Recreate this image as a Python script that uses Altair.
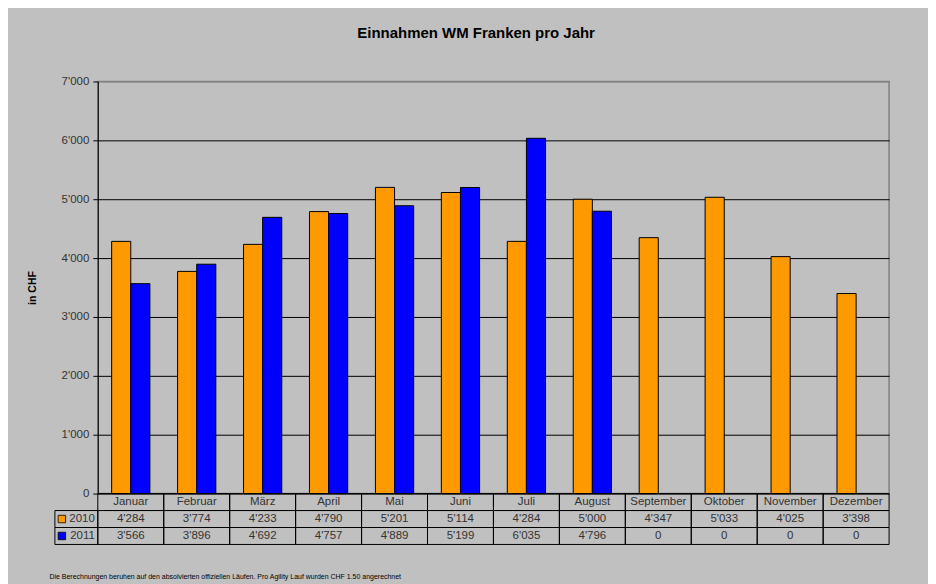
import altair as alt
import pandas as pd

months = ["Januar", "Februar", "März", "April", "Mai", "Juni", "Juli",
          "August", "September", "Oktober", "November", "Dezember"]
v2010 = [4284, 3774, 4233, 4790, 5201, 5114, 4284, 5000, 4347, 5033, 4025, 3398]
v2011 = [3566, 3896, 4692, 4757, 4889, 5199, 6035, 4796, 0, 0, 0, 0]
series = ["2010", "2011"]
colors = ["#FF9900", "#0000FF"]
y_ticks = [0, 1000, 2000, 3000, 4000, 5000, 6000, 7000]
rows = ["Monat", "2010", "2011"]
title_text = "Einnahmen WM Franken pro Jahr"
y_title = "in CHF"
footnote = ("Die Berechnungen beruhen auf den absolvierten offiziellen Läufen. "
            "Pro Agility Lauf wurden CHF 1.50 angerechnet")

FONT = "Liberation Sans"
TXT = "#333333"


def fmt(v):
    return f"{v:,}".replace(",", "'")


bars_df = pd.DataFrame({
    "Monat": months * 2,
    "Jahr": [series[0]] * 12 + [series[1]] * 12,
    "Wert": v2010 + v2011,
})

table_rows = []
for m, a, b in zip(months, v2010, v2011):
    table_rows.append({"Monat": m, "Zeile": "Monat", "Text": m})
    table_rows.append({"Monat": m, "Zeile": "2010", "Text": fmt(a)})
    table_rows.append({"Monat": m, "Zeile": "2011", "Text": fmt(b)})
table_df = pd.DataFrame(table_rows)
legend_df = pd.DataFrame({"Zeile": series, "Jahr": series})

color_scale = alt.Scale(domain=series, range=colors)

top = alt.Chart(bars_df).mark_bar(stroke="black", strokeWidth=1).encode(
    x=alt.X("Monat:N", sort=months,
            scale=alt.Scale(paddingInner=0.42, paddingOuter=0.21),
            axis=None),
    xOffset=alt.XOffset("Jahr:N", sort=series),
    y=alt.Y("Wert:Q", scale=alt.Scale(domain=[0, 7000], nice=False),
            axis=alt.Axis(values=y_ticks,
                          labelExpr="replace(format(datum.value, ','), ',', \"'\")",
                          title=y_title, titleFontSize=10.5, titleFontWeight="bold",
                          titleColor="black", titlePadding=24,
                          labelFontSize=11.5, labelColor=TXT, labelPadding=4,
                          tickSize=5, tickColor="black", domainColor="black",
                          gridColor={"condition": {"test": "datum.value === 7000", "value": "#808080"},
                                     "value": "black"},
                          gridWidth=1)),
    color=alt.Color("Jahr:N", scale=color_scale, legend=None),
    strokeOpacity=alt.condition("datum.Wert > 0", alt.value(1), alt.value(0)),
).properties(width=793, height=413, view=alt.ViewBackground(stroke="#808080", strokeWidth=1.5))

y_enc = alt.Y("Zeile:N", sort=rows, scale=alt.Scale(paddingInner=0, paddingOuter=0), axis=None)
x_enc = alt.X("Monat:N", sort=months, scale=alt.Scale(paddingInner=0, paddingOuter=0),
              axis=alt.Axis(labels=False, ticks=False, domain=False, grid=False,
                            title=footnote, titleFontSize=7, titleFontWeight="normal",
                            titleColor="black", titleAnchor="start", titleAlign="left",
                            titleX=-49, titleY=32, titleBaseline="middle"))

cells = alt.Chart(table_df).mark_rect(fillOpacity=0, stroke="black", strokeWidth=1).encode(
    x=x_enc, y=y_enc)
texts = alt.Chart(table_df).mark_text(fontSize=11.5, color=TXT).encode(
    x=alt.X("Monat:N", sort=months), y=alt.Y("Zeile:N", sort=rows), text="Text:N")
leg_cells = alt.Chart(legend_df).mark_rect(fillOpacity=0, stroke="black", strokeWidth=1).encode(
    x=alt.value(-43), x2=alt.value(0), y=alt.Y("Zeile:N", sort=rows))
leg_sq = alt.Chart(legend_df).mark_square(size=56, stroke="black", strokeWidth=0.8, opacity=1).encode(
    x=alt.value(-36), y=alt.Y("Zeile:N", sort=rows),
    color=alt.Color("Jahr:N", scale=color_scale, legend=None))
leg_txt = alt.Chart(legend_df).mark_text(fontSize=11.5, color=TXT, align="right").encode(
    x=alt.value(-3), y=alt.Y("Zeile:N", sort=rows), text="Zeile:N")

bottom = alt.layer(cells, texts, leg_cells, leg_sq, leg_txt).properties(
    width=793, height=51, view=alt.ViewBackground(strokeWidth=0))

chart = alt.vconcat(top, bottom, spacing=0, bounds="flush").properties(
    title=alt.TitleParams(title_text, fontSize=15, fontWeight="bold", color="black",
                          font=FONT, anchor="middle", offset=34, dx=18),
    padding={"left": 18, "top": 17, "right": 38, "bottom": 12},
    background="#C0C0C0",
).configure(font=FONT).resolve_scale(x="independent", y="independent", color="shared")

chart.save("out.html", embed_options={"renderer": "svg", "actions": False})
